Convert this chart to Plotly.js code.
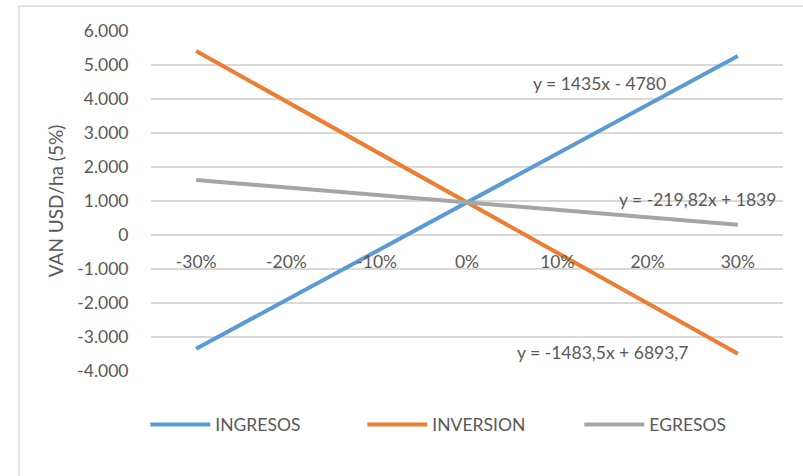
<!DOCTYPE html>
<html>
<head>
<meta charset="utf-8">
<script src="https://cdn.plot.ly/plotly-3.0.1.min.js"></script>
<style>
  html, body { margin: 0; padding: 0; background: #ffffff; }
  #chart { width: 803px; height: 476px; }
</style>
</head>
<body>
<div id="chart"></div>
<script>
// Sensitivity of the NPV (VAN, 5%) per hectare to changes in each component
const categories = ['-30%', '-20%', '-10%', '0%', '10%', '20%', '30%'];
const ingresos  = [-3345, -1910, -475, 960, 2395, 3830, 5265];
const inversion = [5410, 3927, 2443, 960, -524, -2007, -3491];
const egresos   = [1619, 1399, 1180, 960, 740, 520, 300];

const yTickVals = [-4000, -3000, -2000, -1000, 0, 1000, 2000, 3000, 4000, 5000, 6000];
const yTickText = ['-4.000', '-3.000', '-2.000', '-1.000', '0', '1.000', '2.000', '3.000', '4.000', '5.000', '6.000'];

const trendLabels = ['y = 1435x - 4780', 'y = -1483,5x + 6893,7', 'y = -219,82x + 1839'];

const FONT = 'Lato, "Open Sans", sans-serif';
const FS = 17.5;
const TEXT = '#595959';
const GRID = '#d9d9d9';

const series = [
  { name: 'INGRESOS',  y: ingresos,  color: '#5b9bd5' },
  { name: 'INVERSION', y: inversion, color: '#ed7d31' },
  { name: 'EGRESOS',   y: egresos,   color: '#a5a5a5' }
];

const traces = series.map(s => ({
  type: 'scatter',
  mode: 'lines',
  name: s.name,
  x: categories,
  y: s.y,
  line: { color: s.color, width: 4 },
  hoverinfo: 'x+y+name'
}));

const yMin = -4000, yMax = 6000;

const layout = {
  width: 803,
  height: 476,
  paper_bgcolor: '#ffffff',
  plot_bgcolor: '#ffffff',
  margin: { l: 151, r: 20, t: 31, b: 105 },
  font: { family: FONT, size: FS, color: TEXT },
  showlegend: true,
  legend: {
    orientation: 'h',
    x: -0.009,
    y: -0.105,
    xanchor: 'left',
    yanchor: 'top',
    entrywidth: 142,
    entrywidthmode: 'pixels',
    itemwidth: 60,
    font: { family: FONT, size: FS, color: TEXT },
    traceorder: 'normal'
  },
  xaxis: {
    type: 'category',
    range: [-0.5, 6.5],
    anchor: 'free',
    position: (0 - yMin) / (yMax - yMin),
    showgrid: false,
    showline: false,
    zeroline: false,
    ticks: 'outside',
    ticklen: 11,
    tickcolor: 'rgba(0,0,0,0)',
    tickfont: { family: FONT, size: FS, color: TEXT },
    fixedrange: true
  },
  yaxis: {
    range: [yMin, yMax],
    tickvals: yTickVals,
    ticktext: yTickText,
    showgrid: true,
    gridcolor: GRID,
    gridwidth: 1.3,
    zeroline: true,
    zerolinecolor: GRID,
    zerolinewidth: 1.3,
    showline: false,
    ticks: 'outside',
    ticklen: 18,
    tickcolor: 'rgba(0,0,0,0)',
    tickfont: { family: FONT, size: FS, color: TEXT },
    title: { text: 'VAN USD/ha (5%)', font: { family: FONT, size: 19, color: TEXT }, standoff: 8 },
    fixedrange: true
  },
  annotations: [
    { x: 4.47, y: 4470, xref: 'x', yref: 'y', text: trendLabels[0], showarrow: false,
      font: { family: FONT, size: FS, color: TEXT }, xanchor: 'center', yanchor: 'middle' },
    { x: 4.5, y: -3470, xref: 'x', yref: 'y', text: trendLabels[1], showarrow: false,
      font: { family: FONT, size: FS, color: TEXT }, xanchor: 'center', yanchor: 'middle' },
    { x: 5.55, y: 1030, xref: 'x', yref: 'y', text: trendLabels[2], showarrow: false,
      font: { family: FONT, size: FS, color: TEXT }, xanchor: 'center', yanchor: 'middle' }
  ],
  shapes: [
    // chart frame
    { type: 'rect', xref: 'paper', yref: 'paper', layer: 'below',
      x0: -0.2089, x1: 1.2, y0: -0.6, y1: 1.0735,
      line: { color: '#d9d9d9', width: 1.3 }, fillcolor: 'rgba(0,0,0,0)' }
  ]
};

Plotly.newPlot('chart', traces, layout, { displayModeBar: false, staticPlot: true });
</script>
</body>
</html>
